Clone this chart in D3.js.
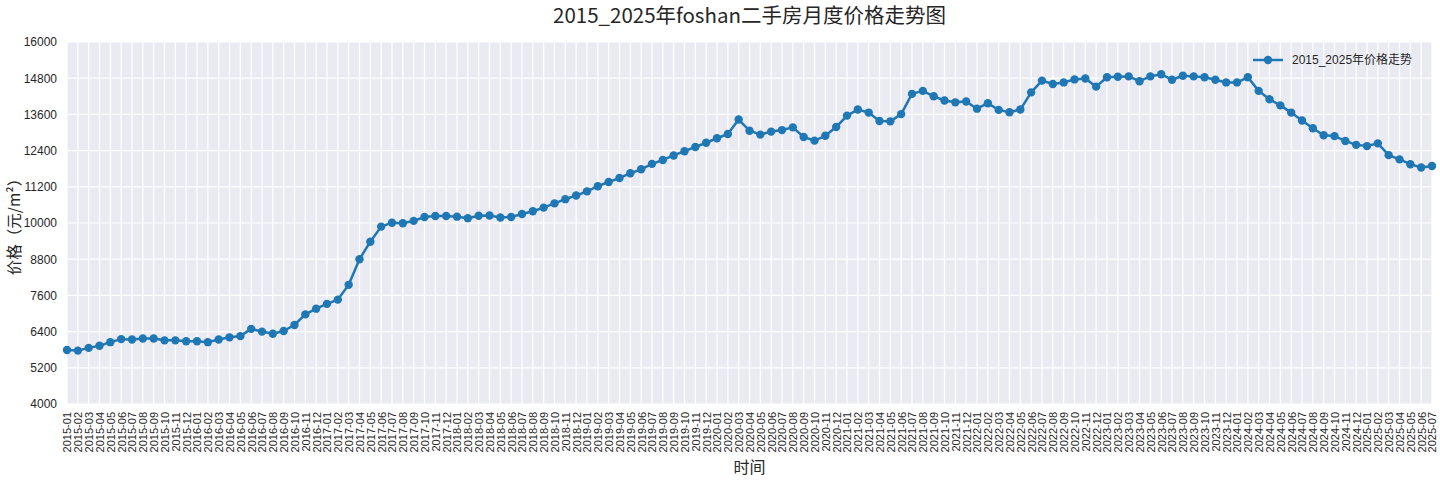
<!DOCTYPE html>
<html><head><meta charset="utf-8">
<script src="https://cdn.jsdelivr.net/npm/d3@7"></script>
<style>body{margin:0;background:#fff}svg{display:block}</style>
</head><body>
<svg id="c" width="1440" height="480"></svg>
<script>
const startMonth = "2015-01", endMonth = "2025-07";
const yTicks = [4000,5200,6400,7600,8800,10000,11200,12400,13600,14800,16000];
const prices = [
5790,5770,5860,5930,6050,6150,6140,6170,6170,6110,
6110,6080,6080,6050,6140,6210,6250,6490,6400,6330,
6420,6620,6970,7160,7320,7460,7950,8800,9380,9880,
10010,9990,10070,10200,10230,10230,10210,10160,10240,10250,
10180,10200,10300,10390,10510,10650,10790,10910,11050,11220,
11360,11490,11650,11780,11960,12090,12240,12380,12520,12660,
12810,12950,13430,13060,12930,13030,13080,13170,12850,12730,
12890,13180,13560,13760,13660,13380,13370,13610,14280,14380,
14200,14060,14000,14030,13790,13970,13750,13670,13760,14330,
14720,14610,14660,14760,14790,14520,14830,14850,14860,14700,
14860,14930,14750,14880,14860,14830,14750,14660,14660,14830,
14380,14100,13900,13660,13400,13140,12910,12880,12720,12590,
12550,12640,12250,12110,11950,11840,11890];
const fmt = d3.timeFormat("%Y-%m"), parse = d3.timeParse("%Y-%m");
const months = d3.timeMonth.range(parse(startMonth), d3.timeMonth.offset(parse(endMonth),1)).map(fmt);
const data = months.map((m,i)=>({m, v: prices[i]}));

const W=1440,H=480,m={l:67,r:8,t:42,b:76};
const svg=d3.select("#c");
const x=d3.scalePoint().domain(months).range([m.l,W-m.r]);
const y=d3.scaleLinear().domain([4000,16000]).range([H-m.b,m.t]);
const latin='"Liberation Sans","Noto Sans CJK SC",Arial,sans-serif';
const cjk='"Noto Sans CJK SC","Liberation Sans",sans-serif';

svg.append("rect").attr("x",m.l).attr("y",m.t).attr("width",W-m.l-m.r).attr("height",H-m.t-m.b).attr("fill","#EAEAF2");
svg.append("g").selectAll("line").data(months).join("line")
  .attr("x1",d=>x(d)).attr("x2",d=>x(d)).attr("y1",m.t).attr("y2",H-m.b)
  .attr("stroke","#fff").attr("stroke-width",1.2);
svg.append("g").selectAll("line").data(yTicks).join("line")
  .attr("x1",m.l).attr("x2",W-m.r).attr("y1",d=>y(d)).attr("y2",d=>y(d))
  .attr("stroke","#fff").attr("stroke-width",1.2);

const yAxis=svg.append("g").attr("transform",`translate(${m.l},0)`)
  .call(d3.axisLeft(y).tickValues(yTicks).tickSize(0).tickPadding(10).tickFormat(d3.format("d")));
yAxis.select(".domain").remove();
yAxis.selectAll("text").attr("font-family",latin).attr("font-size",12).attr("fill","#262626");

const xAxis=svg.append("g").attr("transform",`translate(0,${H-m.b})`)
  .call(d3.axisBottom(x).tickSize(0).tickPadding(0));
xAxis.select(".domain").remove();
xAxis.selectAll("text").attr("font-family",latin).attr("font-size",11).attr("fill","#262626")
  .attr("text-anchor","end").attr("dy","0.35em")
  .attr("transform","translate(0,8) rotate(-90)").attr("x",0).attr("y",0);

svg.append("path").datum(data).attr("fill","none").attr("stroke","#1f77b4").attr("stroke-width",2.5)
  .attr("stroke-linejoin","round")
  .attr("d",d3.line().x(d=>x(d.m)).y(d=>y(d.v)));
svg.append("g").selectAll("circle").data(data).join("circle")
  .attr("cx",d=>x(d.m)).attr("cy",d=>y(d.v)).attr("r",4.2).attr("fill","#1f77b4");

svg.append("text").attr("x",(m.l+W-m.r)/2).attr("y",23).attr("text-anchor","middle")
  .attr("font-family",cjk).attr("font-size",20.5).attr("fill","#262626").text("2015_2025年foshan二手房月度价格走势图");
svg.append("text").attr("x",(m.l+W-m.r)/2).attr("y",473).attr("text-anchor","middle")
  .attr("font-family",cjk).attr("font-size",16).attr("fill","#262626").text("时间");
svg.append("text").attr("transform",`translate(20,${(m.t+H-m.b)/2}) rotate(-90)`).attr("text-anchor","middle")
  .attr("font-family",cjk).attr("font-size",15.5).attr("fill","#262626").text("价格（元/m²）");

const lg=svg.append("g").attr("transform","translate(1253,60)");
lg.append("line").attr("x1",0).attr("x2",30).attr("stroke","#1f77b4").attr("stroke-width",2.5);
lg.append("circle").attr("cx",15).attr("r",4.2).attr("fill","#1f77b4");
lg.append("text").attr("x",39).attr("dy","0.35em").attr("font-family",latin).attr("font-size",12)
  .attr("fill","#262626").text("2015_2025年价格走势");
</script>
</body></html>
